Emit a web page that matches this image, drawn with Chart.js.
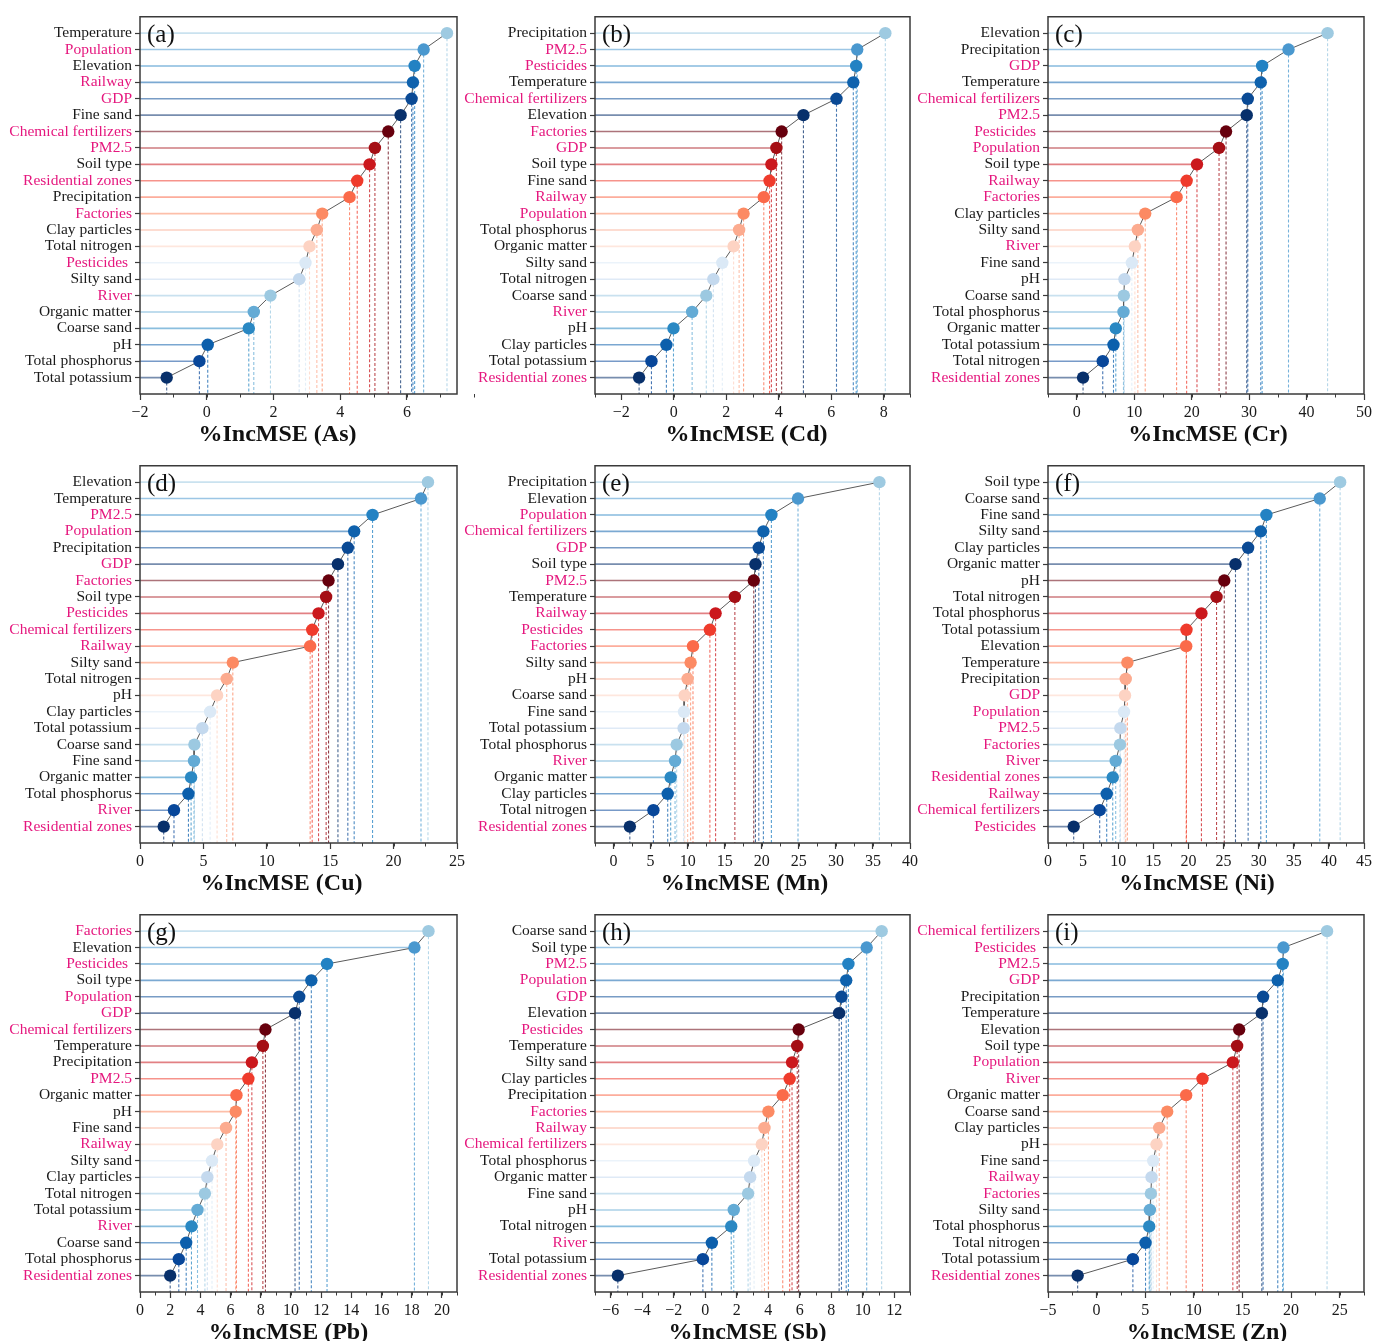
<!DOCTYPE html>
<html>
<head>
<meta charset="utf-8">
<title>%IncMSE lollipop panels</title>
<script src="https://cdn.jsdelivr.net/npm/chart.js@4.4.1/dist/chart.umd.min.js"></script>
<style>
  html, body { margin: 0; padding: 0; background: #ffffff; width: 1386px; height: 1341px; overflow: hidden; }
  canvas { position: absolute; }
</style>
</head>
<body>
<script>
// ---------- data: variable importance (%IncMSE) per metal, sorted high to low ----------
const asLabels = ['Temperature','Population','Elevation','Railway','GDP','Fine sand','Chemical fertilizers','PM2.5','Soil type','Residential zones','Precipitation','Factories','Clay particles','Total nitrogen','Pesticides ','Silty sand','River','Organic matter','Coarse sand','pH','Total phosphorus','Total potassium'];
const asValues = [7.20,6.50,6.23,6.18,6.14,5.81,5.44,5.04,4.88,4.51,4.28,3.46,3.30,3.08,2.96,2.77,1.91,1.41,1.26,0.03,-0.22,-1.20];

const cdLabels = ['Precipitation','PM2.5','Pesticides','Temperature','Chemical fertilizers','Elevation','Factories','GDP','Soil type','Fine sand','Railway','Population','Total phosphorus','Organic matter','Silty sand','Total nitrogen','Coarse sand','River','pH','Clay particles','Total potassium','Residential zones'];
const cdValues = [8.06,6.99,6.95,6.84,6.20,4.94,4.11,3.91,3.72,3.65,3.43,2.66,2.49,2.28,1.85,1.51,1.24,0.70,-0.01,-0.28,-0.85,-1.32];

const crLabels = ['Elevation','Precipitation','GDP','Temperature','Chemical fertilizers','PM2.5','Pesticides ','Population','Soil type','Railway','Factories','Clay particles','Silty sand','River','Fine sand','pH','Coarse sand','Total phosphorus','Organic matter','Total potassium','Total nitrogen','Residential zones'];
const crValues = [43.66,36.86,32.27,32.03,29.77,29.59,25.99,24.77,20.93,19.13,17.38,11.92,10.64,10.12,9.59,8.31,8.20,8.14,6.80,6.40,4.53,1.10];

const cuLabels = ['Elevation','Temperature','PM2.5','Population','Precipitation','GDP','Factories','Soil type','Pesticides ','Chemical fertilizers','Railway','Silty sand','Total nitrogen','pH','Clay particles','Total potassium','Coarse sand','Fine sand','Organic matter','Total phosphorus','River','Residential zones'];
const cuValues = [22.71,22.16,18.34,16.89,16.39,15.61,14.87,14.68,14.08,13.58,13.42,7.32,6.84,6.08,5.53,4.92,4.29,4.26,4.03,3.82,2.68,1.87];

const mnLabels = ['Precipitation','Elevation','Population','Chemical fertilizers','GDP','Soil type','PM2.5','Temperature','Railway','Pesticides ','Factories','Silty sand','pH','Coarse sand','Fine sand','Total potassium','Total phosphorus','River','Organic matter','Clay particles','Total nitrogen','Residential zones'];
const mnValues = [35.87,24.89,21.30,20.22,19.60,19.15,18.92,16.37,13.77,13.00,10.72,10.40,10.00,9.60,9.51,9.46,8.52,8.30,7.71,7.31,5.38,2.20];

const niLabels = ['Soil type','Coarse sand','Fine sand','Silty sand','Clay particles','Organic matter','pH','Total nitrogen','Total phosphorus','Total potassium','Elevation','Temperature','Precipitation','GDP','Population','PM2.5','Factories','River','Residential zones','Railway','Chemical fertilizers','Pesticides '];
const niValues = [41.60,38.70,31.10,30.30,28.50,26.70,25.10,24.00,21.85,19.72,19.68,11.30,11.07,10.97,10.83,10.31,10.25,9.64,9.22,8.36,7.36,3.66];

const pbLabels = ['Factories','Elevation','Pesticides ','Soil type','Population','GDP','Chemical fertilizers','Temperature','Precipitation','PM2.5','Organic matter','pH','Fine sand','Railway','Silty sand','Clay particles','Total nitrogen','Total potassium','River','Coarse sand','Total phosphorus','Residential zones'];
const pbValues = [19.11,18.18,12.39,11.35,10.55,10.27,8.31,8.14,7.41,7.18,6.39,6.34,5.70,5.12,4.77,4.46,4.30,3.81,3.41,3.06,2.57,2.00];

const sbLabels = ['Coarse sand','Soil type','PM2.5','Population','GDP','Elevation','Pesticides ','Temperature','Silty sand','Clay particles','Precipitation','Factories','Railway','Chemical fertilizers','Total phosphorus','Organic matter','Fine sand','pH','Total nitrogen','River','Total potassium','Residential zones'];
const sbValues = [11.20,10.25,9.09,8.95,8.65,8.50,5.93,5.84,5.51,5.36,4.92,4.01,3.76,3.59,3.10,2.85,2.72,1.81,1.65,0.42,-0.15,-5.55];

const znLabels = ['Chemical fertilizers','Pesticides ','PM2.5','GDP','Precipitation','Temperature','Elevation','Soil type','Population','River','Organic matter','Coarse sand','Clay particles','pH','Fine sand','Railway','Factories','Silty sand','Total phosphorus','Total nitrogen','Total potassium','Residential zones'];
const znValues = [23.70,19.21,19.14,18.63,17.12,16.99,14.66,14.45,14.01,10.89,9.21,7.26,6.44,6.16,5.82,5.65,5.58,5.48,5.41,5.03,3.73,-1.95];

// x-axis tick labels per panel
const asTicks = [-2,0,2,4,6];
const cdTicks = [-2,0,2,4,6,8];
const crTicks = [0,10,20,30,40,50];
const cuTicks = [0,5,10,15,20,25];
const mnTicks = [0,5,10,15,20,25,30,35,40];
const niTicks = [0,5,10,15,20,25,30,35,40,45];
const pbTicks = [0,2,4,6,8,10,12,14,16,18,20];
const sbTicks = [-6,-4,-2,0,2,4,6,8,10,12];
const znTicks = [-5,0,5,10,15,20,25];

// human-activity factors get a magenta label
const humanFactors = ['Population','Railway','GDP','Chemical fertilizers','PM2.5','Residential zones','Factories','Pesticides','River'];

// rank colours: 6 blues (light→dark), 8 reds (dark→light), 8 blues (light→dark)
const rankColors = [
  '#9ecae1','#4a98cf','#2382c3','#0f62ad','#0a4a95','#08306b',
  '#67000d','#a50f15','#cb181d','#ef3b2c','#fb6a4a','#fc8a63','#fcab8f','#fdd3c3',
  '#dbe9f6','#c4d9ee','#9cc9e1','#64abd5','#2a88c3','#0c5fac','#08479a','#08306b'
];

// ---------- layout & style ----------
const SERIF = '"Liberation Serif", "Times New Roman", serif';
const AXIS_COLOR = '#3a3a3a';
const cols = [{ l: 140, r: 457 }, { l: 595, r: 910 }, { l: 1048, r: 1364 }];
const rows = [{ t: 16, b: 394 }, { t: 465, b: 843 }, { t: 914, b: 1292 }];
const Y_W = 145, TOP_PAD = 10, RIGHT_PAD = 20, X_H = 59;

// titleShift: horizontal nudge (px) of each axis title from the plot centre
const panels = [
  { letter: '(a)', metal: 'As', labels: asLabels, values: asValues, ticks: asTicks, min: -2,   max: 7.5,  minor: 1,   titleShift: -21 },
  { letter: '(b)', metal: 'Cd', labels: cdLabels, values: cdValues, ticks: cdTicks, min: -3,   max: 9,    minor: 1,   titleShift: -6 },
  { letter: '(c)', metal: 'Cr', labels: crLabels, values: crValues, ticks: crTicks, min: -5,   max: 50,   minor: 5,   titleShift: 2 },
  { letter: '(d)', metal: 'Cu', labels: cuLabels, values: cuValues, ticks: cuTicks, min: 0,    max: 25,   minor: 2.5, titleShift: -17 },
  { letter: '(e)', metal: 'Mn', labels: mnLabels, values: mnValues, ticks: mnTicks, min: -2.5, max: 40,   minor: 2.5, titleShift: -8 },
  { letter: '(f)', metal: 'Ni', labels: niLabels, values: niValues, ticks: niTicks, min: 0,    max: 45,   minor: 2.5, titleShift: -9 },
  { letter: '(g)', metal: 'Pb', labels: pbLabels, values: pbValues, ticks: pbTicks, min: 0,    max: 21,   minor: 1,   titleShift: -10 },
  { letter: '(h)', metal: 'Sb', labels: sbLabels, values: sbValues, ticks: sbTicks, min: -7,   max: 13,   minor: 1,   titleShift: -5 },
  { letter: '(i)', metal: 'Zn', labels: znLabels, values: znValues, ticks: znTicks, min: -5,   max: 27.5, minor: 2.5, titleShift: 1 }
];

function withAlpha(hex, a) {
  const n = parseInt(hex.slice(1), 16);
  return `rgba(${(n >> 16) & 255},${(n >> 8) & 255},${n & 255},${a})`;
}
function fmtTick(v) {
  return v < 0 ? '\u2212' + Math.abs(v) : String(v);
}

// frame, minor x ticks, panel letter and x-axis title
function decoPlugin(p) {
  return {
    id: 'panelDeco',
    afterDraw(chart) {
      const { ctx, chartArea: a } = chart;
      const x = chart.scales.x;
      ctx.save();
      ctx.strokeStyle = AXIS_COLOR;
      ctx.lineWidth = 1;
      const nMinor = Math.round((x.max - x.min) / p.minor);
      for (let k = 0; k <= nMinor; k++) {
        const px = Math.round(x.getPixelForValue(x.min + k * p.minor)) + 0.5;
        ctx.beginPath();
        ctx.moveTo(px, a.bottom);
        ctx.lineTo(px, a.bottom + 3.5);
        ctx.stroke();
      }
      ctx.lineWidth = 1.5;
      ctx.strokeRect(a.left, a.top, a.right - a.left, a.bottom - a.top);

      ctx.fillStyle = '#111';
      ctx.font = '25px ' + SERIF;
      ctx.textAlign = 'left';
      ctx.textBaseline = 'middle';
      ctx.fillText(p.letter, a.left + 7, a.top + 19);

      ctx.font = 'bold 24px ' + SERIF;
      ctx.textAlign = 'center';
      ctx.fillText('%IncMSE (' + p.metal + ')', (a.left + a.right) / 2 + p.titleShift, a.bottom + 41);
      ctx.restore();
    }
  };
}

function buildDatasets(p) {
  const n = p.values.length;
  const pts = p.values.map((v, i) => ({ x: v, y: i }));
  const ds = [];
  ds.push({
    data: pts, showLine: false, order: 0,
    pointRadius: 6.2, pointHoverRadius: 6.2, pointBorderWidth: 0,
    pointBackgroundColor: rankColors.slice(0, n)
  });
  ds.push({
    data: pts, showLine: true, order: 1,
    borderColor: '#5a5a5a', borderWidth: 1, pointRadius: 0, pointHoverRadius: 0
  });
  p.values.forEach((v, i) => {
    // stem from the y axis to the point
    ds.push({
      data: [{ x: p.min, y: i }, { x: v, y: i }], showLine: true, order: 2,
      borderColor: withAlpha(rankColors[i], 0.55), borderWidth: 1.6,
      pointRadius: 0, pointHoverRadius: 0
    });
    // dashed drop from the point to the x axis
    ds.push({
      data: [{ x: v, y: i }, { x: v, y: n }], showLine: true, order: 2,
      borderColor: withAlpha(rankColors[i], 0.75), borderWidth: 1.1, borderDash: [3, 2],
      pointRadius: 0, pointHoverRadius: 0
    });
  });
  return ds;
}

panels.forEach((p, idx) => {
  const c = cols[idx % 3], r = rows[Math.floor(idx / 3)];
  const w = (c.r - c.l) + Y_W + RIGHT_PAD;
  const h = (r.b - r.t) + TOP_PAD + X_H;
  const canvas = document.createElement('canvas');
  canvas.width = w; canvas.height = h;
  canvas.style.left = (c.l - Y_W) + 'px';
  canvas.style.top = (r.t - TOP_PAD) + 'px';
  canvas.style.width = w + 'px';
  canvas.style.height = h + 'px';
  document.body.appendChild(canvas);

  const n = p.labels.length;
  const rowIdx = p.labels.map((_, i) => i);

  new Chart(canvas, {
    type: 'scatter',
    data: { datasets: buildDatasets(p) },
    options: {
      responsive: false,
      devicePixelRatio: 1,
      animation: false,
      events: [],
      layout: { padding: { left: 0, top: TOP_PAD, right: RIGHT_PAD, bottom: 0 } },
      plugins: { legend: { display: false }, tooltip: { enabled: false } },
      scales: {
        x: {
          type: 'linear', position: 'bottom',
          min: p.min, max: p.max,
          afterBuildTicks: s => { s.ticks = p.ticks.map(v => ({ value: v })); },
          afterFit: s => { s.height = X_H; },
          grid: { display: true, drawOnChartArea: false, drawTicks: true, tickLength: 6, tickColor: AXIS_COLOR, tickWidth: 1.2 },
          border: { display: false },
          ticks: {
            autoSkip: false, maxRotation: 0, padding: 3,
            color: '#1a1a1a', font: { family: SERIF, size: 16 },
            callback: v => fmtTick(v)
          },
          title: { display: false }
        },
        y: {
          type: 'linear', reverse: true,
          min: -1, max: n,
          afterBuildTicks: s => { s.ticks = rowIdx.map(v => ({ value: v })); },
          afterFit: s => { s.width = Y_W; },
          grid: { display: true, drawOnChartArea: false, drawTicks: true, tickLength: 5, tickColor: AXIS_COLOR, tickWidth: 1.2 },
          border: { display: false },
          ticks: {
            autoSkip: false, padding: 3,
            font: { family: SERIF, size: 15.5, lineHeight: 1 },
            color: ctx => {
              const lab = p.labels[ctx.tick ? ctx.tick.value : ctx.index] || '';
              return humanFactors.includes(lab.trim()) ? '#e5177e' : '#1a1a1a';
            },
            callback: v => p.labels[v]
          }
        }
      }
    },
    plugins: [decoPlugin(p)]
  });
});
</script>
</body>
</html>
